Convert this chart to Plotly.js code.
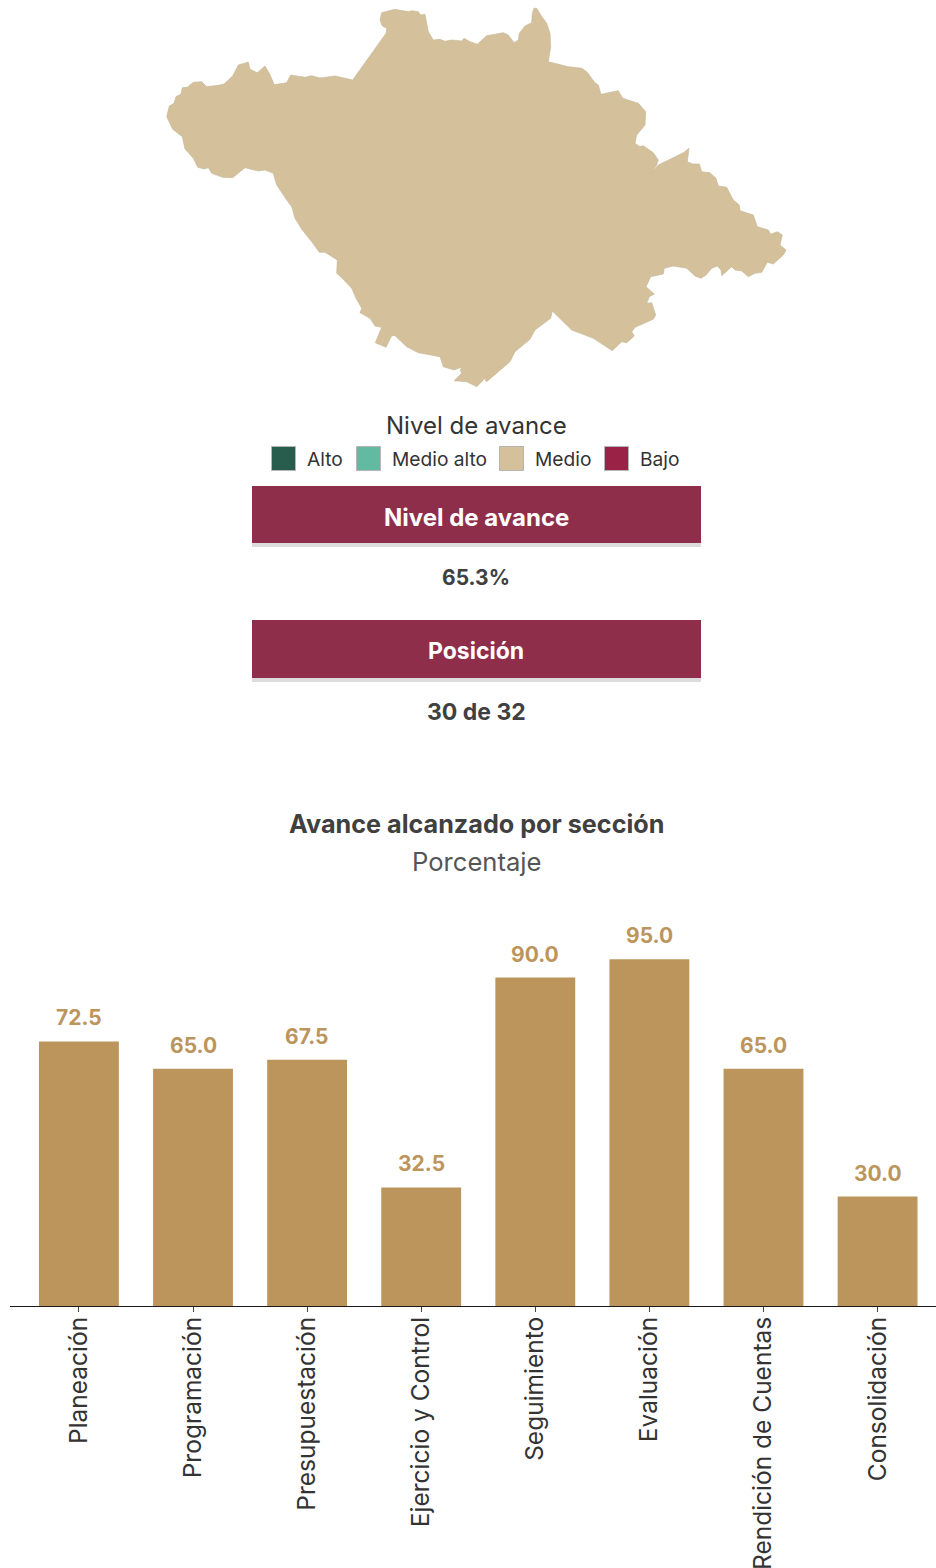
<!DOCTYPE html>
<html><head><meta charset="utf-8">
<script src="https://cdn.plot.ly/plotly-3.0.1.min.js"></script>
<style>html,body{margin:0;padding:0;background:#fff;overflow:hidden}#c{width:936px;height:1568px}</style>
</head><body><div id="c"></div>
<script>
const categories=["Planeación","Programación","Presupuestación","Ejercicio y Control","Seguimiento","Evaluación","Rendición de Cuentas","Consolidación"];
const values=[72.5,65.0,67.5,32.5,90.0,95.0,65.0,30.0];
const legendNames=["Alto","Medio alto","Medio","Bajo"];
const legendColors=["#285C4D","#62BAA0","#D4C19C","#9B2247"];
const mapX=[166.7,169.3,174,176,181,182.3,187.3,193.3,201.7,206.7,218.3,224,232.7,238.3,248.3,250,257.3,265,269.3,274.3,286.7,290.7,305,311.7,320,335,352.7,386,386.7,382.3,380,381.7,395,408.3,411.7,418.3,420.7,425,428.3,433.3,440,445,451.7,461.7,464,470,477.3,486.7,503.3,508.3,514,518.3,519.3,525,531.7,532.3,534,536.7,540.7,546.7,550,550.7,548.3,568.3,581.7,586.7,595,598.3,601,618.3,622.7,638.3,645.7,645,636.7,635,640,643.3,653.3,658.3,656.7,651,658.3,670,683.3,689,687.3,692.7,699.3,701.7,710,716,718.3,726.7,733.3,739.3,740,753.3,757.3,768.3,770.7,777.3,782.3,780,786,783.3,773.3,767.3,761.7,755,748.3,741.7,735,731.7,721.7,721,717.3,711.7,706,701,695,686.7,673.3,664.3,663.3,650.7,646,654.3,649.3,646.7,651.7,655.7,653.3,635,631.7,634.3,626.7,621.7,612.3,593.3,571.7,552.3,550.7,541.7,535,530,520,515,510,496.7,486.7,485,486.7,476.7,466.7,454,461.7,460,462.7,454,443.3,440,418.3,406.7,395,391.7,386,375.3,381.7,375,370,360,361.7,356,351.7,340,336.7,337.3,325,319.3,311.7,301.7,295,291.7,286.7,276.7,273.3,265,258.3,245,232.7,222.7,211.7,208.3,204.3,197.7,193.3,185,182.3,172.7,169.3,166.7];
const mapY=[116.7,106,103.3,96.7,94,87.7,87.3,82.3,81.7,86.7,85.3,84,76,65,62,69.3,72.7,66,73.3,84.7,82.7,75,77.3,75.7,78,76,80,33.3,28.3,26,20,12.7,9.3,11.7,10.7,11.7,15,14.3,31.7,40,39.3,41.3,40,41,38.3,41.7,44.3,35.7,32.7,35,42.7,40,33.3,26,22.7,13.3,8.3,8.3,15,23.3,33.3,46.7,61.7,66.7,68.3,71.7,82.7,85,94.3,90.7,98.3,103.3,111.7,125,135,143.3,146.7,145.7,152.7,160,165,173.3,165,159.3,152.7,148.3,161.7,164,164,171.7,172.7,178.3,186,187.3,200,205,210.7,215,226.7,230,234.3,231.7,235,245,250,255,264,262.3,272.3,273.3,276.7,271,270,266.7,275.7,270,266,268.3,275,278.3,276,268.3,266,268.3,274,276.7,286.7,294,296.7,303.3,302.7,315,319.3,327.3,331.7,336,342.7,341.7,350.7,338.3,330,311,318.3,325,330,339.3,347.3,351.7,361.7,373.3,381.7,380,376.7,386.7,381.7,380.7,373.3,370,366.7,370,366.7,356.7,352.7,346.7,335.7,335.7,347.3,342.7,327.3,326,318.3,312.7,308.3,298.3,288.3,276,273.3,260,252.3,252.3,241.7,229.3,218.3,206.7,200,185,173.3,170,171,167.7,177.7,177.3,173.3,167.7,169,167.3,158.3,149,136.7,129.3,121.7,116.7];

const W=936,H=1568,F="Inter, sans-serif";
const px=x=>x/W, py=y=>1-y/H;
const txt=(text,x,y,size,color,weight,anchor)=>({text,x:px(x),y:py(y),xref:"paper",yref:"paper",xanchor:anchor||"center",yanchor:"middle",showarrow:false,font:{family:F,size,color,weight:weight||400}});
const rect=(x0,y0,x1,y1,fill,line)=>({type:"rect",xref:"paper",yref:"paper",x0:px(x0),x1:px(x1),y0:py(y1),y1:py(y0),fillcolor:fill,line:line?{color:line,width:1}:{width:0},layer:"above"});

const swatchX=[271,356,499,604], textX=[305,390,533,638];
const shapes=[
  rect(252,486,701,543,"#8F2E4A"),rect(252,543,701,547,"#DCDCDC"),
  rect(252,620,701,678,"#8F2E4A"),rect(252,678,701,682,"#DCDCDC")
];
legendColors.forEach((c,i)=>shapes.push(rect(swatchX[i]+.5,446.5,swatchX[i]+24.5,470.5,c,"#B5B5B5")));
const annotations=[
  txt("Nivel de avance",476,425,24,"#333333"),
  txt("Nivel de avance",476,517,24,"#FFFFFF",700),
  txt("65.3%",476.5,577,21,"#404040",700),
  txt("Posición",476,651,23,"#FFFFFF",700),
  txt("30 de 32",476,712,23,"#404040",700),
  txt("Avance alcanzado por sección",476,824,25.2,"#404040",700),
  txt("Porcentaje",476,861.5,25.6,"#555555")
];
legendNames.forEach((n,i)=>annotations.push(txt(n,textX[i],459,19.2,"#333333",400,"left")));
categories.forEach((c,i)=>annotations.push({text:values[i].toFixed(1),x:c,y:values[i],xref:"x",yref:"y",yanchor:"bottom",yshift:9,showarrow:false,font:{family:F,size:21,color:"#BC955C",weight:700}}));

const traces=[
 {type:"bar",x:categories,y:values,width:0.7,marker:{color:"#BC955C"},hoverinfo:"skip",cliponaxis:false},
 {type:"scatter",mode:"lines",x:mapX,y:mapY,xaxis:"x2",yaxis:"y2",fill:"toself",fillcolor:"#D4C19C",line:{color:"#C2B594",width:0.6},hoverinfo:"skip"}
];
const layout={
 width:W,height:H,margin:{l:0,r:0,t:0,b:0},paper_bgcolor:"#fff",plot_bgcolor:"#fff",showlegend:false,
 font:{family:F},
 xaxis:{domain:[10/W,1],range:[-0.604,7.512],type:"category",categoryorder:"array",categoryarray:categories,showgrid:false,zeroline:false,showline:true,linecolor:"#1a1a1a",linewidth:1,ticks:"outside",ticklen:5,tickcolor:"#444",tickangle:-90,ticklabelstandoff:-5,tickfont:{family:F,size:24.5,color:"#333333"},automargin:false,anchor:"y"},
 yaxis:{domain:[py(1306),py(941)],range:[0,100],visible:false,fixedrange:true,anchor:"x"},
 xaxis2:{domain:[0,1],range:[0,W],visible:false,anchor:"y2"},
 yaxis2:{domain:[py(400),1],range:[400,0],visible:false,anchor:"x2"},
 shapes,annotations
};
Plotly.newPlot("c",traces,layout,{displayModeBar:false,staticPlot:true});
</script></body></html>
